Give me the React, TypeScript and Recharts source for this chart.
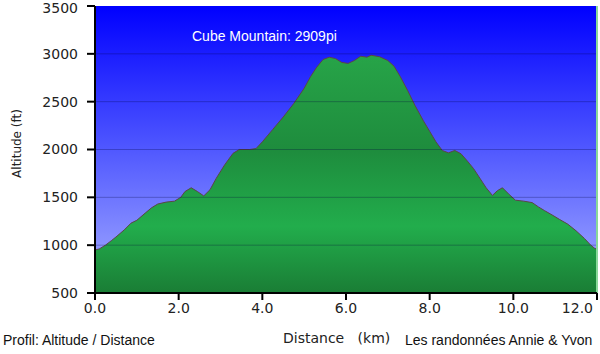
import { AreaChart, Area, CartesianGrid, XAxis, YAxis, ReferenceLine, Label } from "recharts";

// distance (km) / altitude (ft)
const distances = [
  0.0, 0.1, 0.25, 0.4, 0.5, 0.7, 0.86, 1.0, 1.2, 1.35, 1.5, 1.7, 1.9, 2.05, 2.15, 2.3, 2.45, 2.6, 2.75, 2.9,
  3.1, 3.3, 3.45, 3.7, 3.85, 4.0, 4.25, 4.5, 4.75, 5.0, 5.15, 5.3, 5.45, 5.6, 5.75, 5.9, 6.05, 6.2, 6.35, 6.5,
  6.6, 6.8, 7.0, 7.15, 7.3, 7.47, 7.65, 7.85, 8.0, 8.15, 8.3, 8.45, 8.6, 8.75, 8.9, 9.05, 9.2, 9.35, 9.5, 9.62,
  9.74, 9.9, 10.05, 10.25, 10.45, 10.6, 10.75, 10.95, 11.1, 11.3, 11.5, 11.7, 11.85, 11.95, 12.0,
];
const altitudes = [
  950, 960, 1000, 1050, 1085, 1160, 1230, 1260, 1335, 1390, 1430, 1450, 1460, 1500, 1560, 1600, 1560, 1515, 1580, 1700,
  1840, 1960, 2000, 2000, 2010, 2080, 2210, 2340, 2480, 2640, 2760, 2860, 2940, 2965, 2950, 2910, 2900, 2930, 2975, 2965,
  2985, 2970, 2930, 2870, 2760, 2620, 2460, 2300, 2190, 2080, 1990, 1965, 1990, 1955, 1880, 1800, 1700, 1600, 1520, 1570,
  1600, 1530, 1470, 1460, 1445, 1400, 1360, 1310, 1270, 1220, 1150, 1070, 1000, 965, 960,
];
const xTicks = [0, 2, 4, 6, 8, 10, 12];
const yTicks = [500, 1000, 1500, 2000, 2500, 3000, 3500];

const data = distances.map((d, i) => ({ dist: d, alt: altitudes[i] }));

const arial = "'Liberation Sans', Arial, sans-serif";
const verdana = "'DejaVu Sans', Verdana, sans-serif";

// last label is pulled inside so it stays on the page
const XTick = (props: any) => {
  const { x, y, payload } = props;
  const last = payload.value === xTicks[xTicks.length - 1];
  return (
    <text
      x={last ? x + 1 : x}
      y={y}
      dy="0.71em"
      textAnchor={last ? "end" : "middle"}
      fill="#222"
      fontSize={14}
      fontFamily={verdana}
    >
      {Number(payload.value).toFixed(1)}
    </text>
  );
};

export default function App() {
  return (
    <div style={{ position: "absolute", left: 0, top: 0, width: 600, height: 354, background: "#fff", fontFamily: arial }}>
      <AreaChart width={600} height={354} data={data} margin={{ top: 6, right: 3, left: 0, bottom: 31 }}>
        <defs>
          <linearGradient id="bgGrad" x1="0" y1="0" x2="0" y2="1">
            <stop offset="0%" stopColor="#0000ff" />
            <stop offset="50%" stopColor="#5058ff" />
            <stop offset="100%" stopColor="#a8b0ff" />
          </linearGradient>
          <linearGradient id="greenGrad" x1="0" y1="0" x2="0" y2="1">
            <stop offset="0%" stopColor="#27a448" />
            <stop offset="40%" stopColor="#1e8c3d" />
            <stop offset="72%" stopColor="#22ad4c" />
            <stop offset="100%" stopColor="#1a7d35" />
          </linearGradient>
        </defs>
        <CartesianGrid vertical={false} horizontal={false} fill="url(#bgGrad)" />
        <XAxis
          dataKey="dist"
          type="number"
          domain={[0, 12]}
          ticks={xTicks}
          height={30}
          tickSize={7}
          tickMargin={3}
          axisLine={{ stroke: "#000", strokeWidth: 2 }}
          tickLine={{ stroke: "#000", strokeWidth: 2 }}
          tick={<XTick />}
        />
        <YAxis
          type="number"
          domain={[500, 3500]}
          ticks={yTicks}
          width={95}
          tickSize={8}
          tickMargin={9}
          axisLine={{ stroke: "#000", strokeWidth: 2 }}
          tickLine={{ stroke: "#000", strokeWidth: 2 }}
          tick={{ fill: "#222", fontSize: 14, fontFamily: verdana }}
        >
          <Label
            value="Altitude (ft)"
            angle={-90}
            position="insideLeft"
            offset={17}
            dy={-6}
            style={{ fill: "#222", fontSize: 12, fontFamily: verdana, textAnchor: "middle" }}
          />
        </YAxis>
        <Area
          type="linear"
          dataKey="alt"
          stroke="#5a4646"
          strokeWidth={1}
          fill="url(#greenGrad)"
          fillOpacity={1}
          isAnimationActive={false}
        />
        {yTicks.slice(1, -1).map((t) => (
          <ReferenceLine key={t} y={t} stroke="rgba(0,0,60,0.28)" strokeWidth={1} />
        ))}
        <ReferenceLine x={12} stroke="#8ad89a" strokeWidth={2} />
      </AreaChart>
      <div style={{ position: "absolute", left: 192, top: 28, color: "#fff", fontSize: 14, whiteSpace: "nowrap" }}>
        Cube Mountain: 2909pi
      </div>
      <div style={{ position: "absolute", left: 3, top: 332, color: "#111", fontSize: 14, whiteSpace: "nowrap" }}>
        Profil: Altitude / Distance
      </div>
      <div style={{ position: "absolute", left: 283, top: 330, color: "#222", fontSize: 14, fontFamily: verdana, whiteSpace: "pre" }}>
        {"Distance   (km)"}
      </div>
      <div style={{ position: "absolute", left: 405, top: 332, color: "#111", fontSize: 14, whiteSpace: "nowrap" }}>
        Les randonnées Annie &amp; Yvon
      </div>
    </div>
  );
}
